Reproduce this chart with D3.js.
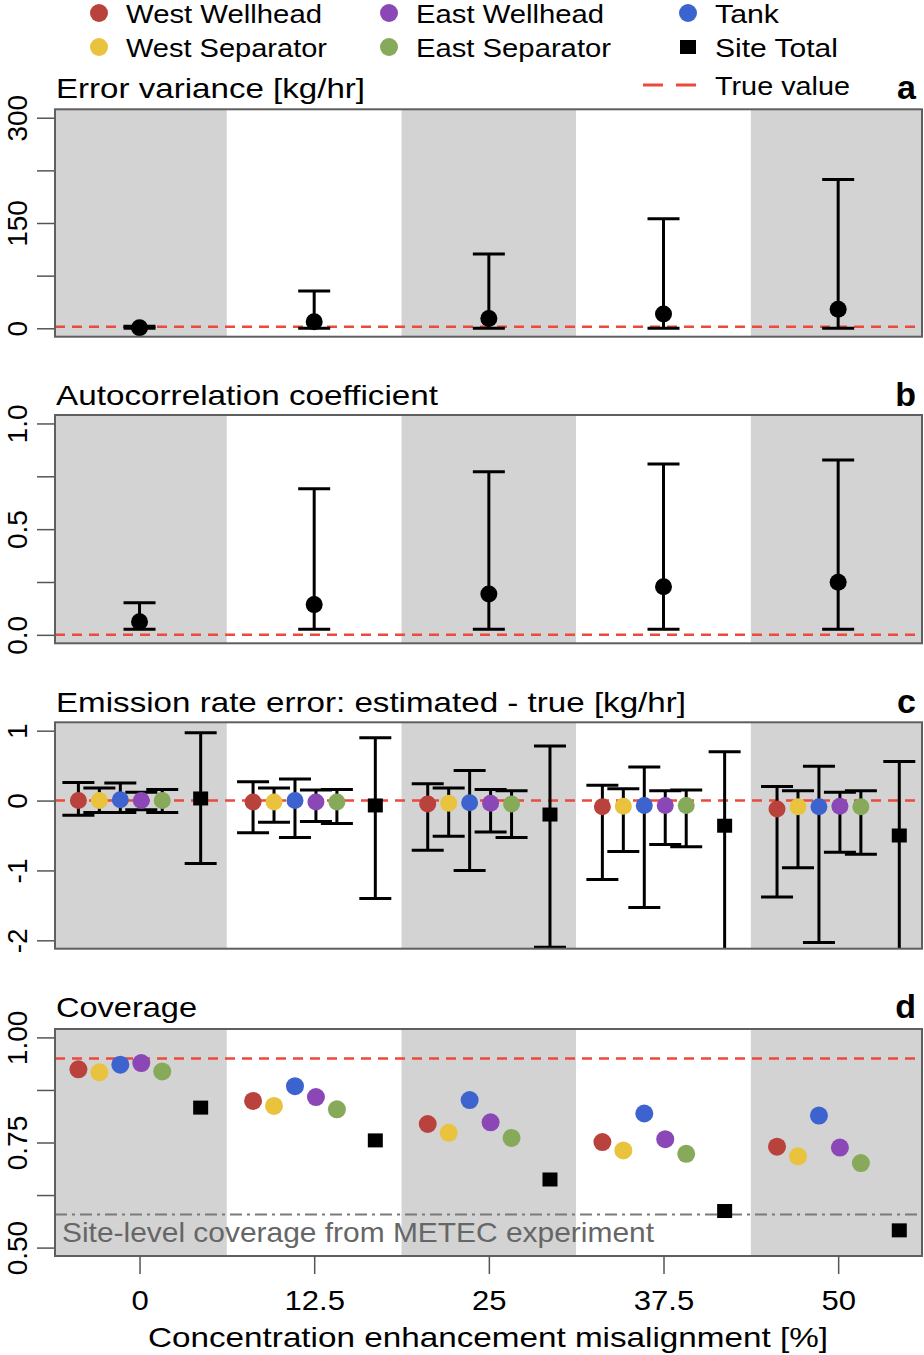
<!DOCTYPE html>
<html><head><meta charset="utf-8">
<script src="https://cdn.jsdelivr.net/npm/d3@7"></script>
<style>body{margin:0;background:#fff} svg{display:block} text{font-family:"Liberation Sans",Arial,Helvetica,sans-serif}</style>
</head><body><svg id="chart" width="924" height="1355"></svg>
<script>
// ---------------- DATA ----------------
const groups = [0, 12.5, 25, 37.5, 50];
const groupLabels = ["0", "12.5", "25", "37.5", "50"];
const sources = ["West Wellhead", "West Separator", "Tank", "East Wellhead", "East Separator", "Site Total"];
const sourceColors = ["#b9423d", "#e9c33d", "#3d63cf", "#8b47b5", "#86a95a", "#000000"];
const sourceOffsets = [-4.375, -2.875, -1.375, 0.125, 1.625, 4.375];

// (a) error variance [kg/hr]
const varEst = [0.9, 9.4, 14.0, 20.4, 27.0];
const varLo  = [0, 0, 0, 0, 0];
const varHi  = [3, 53, 106, 156, 212];
const varTrue = 2.25;
const varTicks = [0, 75, 150, 225, 300];
const varTickLabels = ["0", "", "150", "", "300"];

// (b) autocorrelation coefficient
const acEst = [0.062, 0.143, 0.193, 0.228, 0.249];
const acLo  = [0.026, 0.027, 0.027, 0.027, 0.027];
const acHi  = [0.152, 0.691, 0.772, 0.808, 0.827];
const acTrue = 0;
const acTicks = [0, 0.25, 0.5, 0.75, 1];
const acTickLabels = ["0.0", "", "0.5", "", "1.0"];

// (c) emission rate error: rows follow `sources`, columns follow `groups`
const errEst = [
  [0.00, -0.02, -0.05, -0.09, -0.12],
  [0.00, -0.02, -0.04, -0.08, -0.09],
  [0.01,  0.00, -0.03, -0.07, -0.09],
  [0.00, -0.02, -0.04, -0.07, -0.08],
  [0.00, -0.02, -0.05, -0.07, -0.09],
  [0.03, -0.07, -0.20, -0.36, -0.50]
];
const errLo = [
  [-0.21, -0.46, -0.71, -1.13, -1.38],
  [-0.17, -0.31, -0.51, -0.73, -0.96],
  [-0.17, -0.53, -1.00, -1.53, -2.03],
  [-0.13, -0.30, -0.45, -0.63, -0.74],
  [-0.17, -0.33, -0.53, -0.66, -0.77],
  [-0.90, -1.40, -2.10, -2.40, -2.70]
];
const errHi = [
  [0.26, 0.27, 0.24, 0.22, 0.20],
  [0.18, 0.18, 0.18, 0.17, 0.14],
  [0.25, 0.31, 0.43, 0.48, 0.49],
  [0.12, 0.15, 0.16, 0.14, 0.12],
  [0.16, 0.16, 0.14, 0.15, 0.14],
  [0.97, 0.90, 0.78, 0.70, 0.56]
];
const errTrue = 0;
const errTicks = [1, 0, -1, -2];
const errTickLabels = ["1", "0", "-1", "-2"];

// (d) coverage
const coverage = [
  [0.924, 0.849, 0.794, 0.751, 0.740],
  [0.917, 0.837, 0.773, 0.731, 0.717],
  [0.935, 0.884, 0.851, 0.819, 0.814],
  [0.939, 0.858, 0.798, 0.758, 0.738],
  [0.919, 0.829, 0.761, 0.723, 0.701],
  [0.833, 0.755, 0.662, 0.587, 0.541]
];
const coverageTrue = 0.95;
const coverageMETEC = 0.579;
const covTicks = [0.5, 0.625, 0.75, 0.875, 1];
const covTickLabels = ["0.50", "", "0.75", "", "1.00"];

// ---------------- DRAWING ----------------
const svg = d3.select("#chart");
const L = 55, R = 922;
const SX = 1.15;
const TRUE_COLOR = "#ec4a3c";
const x = d3.scaleLinear().domain([-6.05, 56.0]).range([L, R]);
const bandEdges = [-6.25, 6.25, 18.75, 31.25, 43.75, 56.25];

function makePanel(id, top, bottom, domain, tickVals, tickLabels, title, titleLen, titleBase, letter) {
  const y = d3.scaleLinear().domain(domain).range([bottom, top]);
  const g = svg.append("g");
  svg.append("clipPath").attr("id", "clip" + id).append("rect")
    .attr("x", L).attr("y", top).attr("width", R - L).attr("height", bottom - top);
  const plot = g.append("g").attr("clip-path", `url(#clip${id})`);
  plot.selectAll("rect.band").data(d3.range(bandEdges.length - 1)).join("rect")
    .attr("class", "band")
    .attr("x", i => x(bandEdges[i])).attr("width", i => x(bandEdges[i + 1]) - x(bandEdges[i]))
    .attr("y", top).attr("height", bottom - top)
    .attr("fill", i => i % 2 === 0 ? "#d3d3d3" : "#ffffff");

  const ax = d3.axisLeft(y).tickValues(tickVals).tickSize(18).tickFormat((d, i) => tickLabels[i]);
  const axg = g.append("g").attr("transform", `translate(${L},0)`).call(ax)
    .attr("font-family", null).attr("font-size", null);
  axg.select(".domain").remove();
  axg.selectAll(".tick line").attr("stroke", "#555").attr("stroke-width", 1.5);
  axg.selectAll(".tick text").attr("x", null).attr("dy", null)
    .attr("text-anchor", "middle").attr("font-size", 28).attr("fill", "#000")
    .attr("transform", `translate(-28,0) rotate(-90)`);

  g.append("text").attr("x", 56).attr("y", titleBase).attr("font-size", 28)
    .attr("textLength", titleLen).attr("lengthAdjust", "spacingAndGlyphs").text(title);
  g.append("text").attr("x", 916).attr("y", titleBase + 1).attr("font-size", 34)
    .attr("font-weight", "bold").attr("text-anchor", "end").text(letter);

  return {y, g, plot, top, bottom};
}

function drawBox(p) {
  p.g.append("rect").attr("x", L).attr("y", p.top).attr("width", R - L).attr("height", p.bottom - p.top)
    .attr("fill", "none").attr("stroke", "#5f5f5f").attr("stroke-width", 2);
}

function trueLine(p, v) {
  p.plot.append("line").attr("x1", L).attr("x2", R).attr("y1", p.y(v)).attr("y2", p.y(v))
    .attr("stroke", TRUE_COLOR).attr("stroke-width", 2.5).attr("stroke-dasharray", "10,7");
}

function errorBars(p, xs, lo, hi) {
  const eb = p.plot.append("g").attr("stroke", "#000").attr("stroke-width", 3);
  const idx = d3.range(xs.length);
  eb.selectAll("line.v").data(idx).join("line").attr("class", "v")
    .attr("x1", i => xs[i]).attr("x2", i => xs[i]).attr("y1", i => p.y(lo[i])).attr("y2", i => p.y(hi[i]));
  eb.selectAll("line.lo").data(idx).join("line").attr("class", "lo")
    .attr("x1", i => xs[i] - 16).attr("x2", i => xs[i] + 16).attr("y1", i => p.y(lo[i])).attr("y2", i => p.y(lo[i]));
  eb.selectAll("line.hi").data(idx).join("line").attr("class", "hi")
    .attr("x1", i => xs[i] - 16).attr("x2", i => xs[i] + 16).attr("y1", i => p.y(hi[i])).attr("y2", i => p.y(hi[i]));
}

function marks(p, s, xs, vals, r) {
  if (s === 5) {
    p.plot.selectAll(null).data(vals).join("rect")
      .attr("x", (d, i) => xs[i] - 7.5).attr("y", d => p.y(d) - 7)
      .attr("width", 15).attr("height", 14).attr("fill", "#000");
  } else {
    p.plot.selectAll(null).data(vals).join("circle")
      .attr("cx", (d, i) => xs[i]).attr("cy", d => p.y(d)).attr("r", r)
      .attr("fill", sourceColors[s]);
  }
}

// Panel a
const pa = makePanel("a", 109.3, 336.7, [-12, 312], varTicks, varTickLabels,
  "Error variance [kg/hr]", 309, 98, "a");
trueLine(pa, varTrue);
const gx = groups.map(g => x(g));
errorBars(pa, gx, varLo, varHi);
pa.plot.selectAll(null).data(varEst).join("circle")
  .attr("cx", (d, i) => gx[i]).attr("cy", d => pa.y(d)).attr("r", 8.5).attr("fill", "#000");
drawBox(pa);

// Panel b
const pb = makePanel("b", 415, 643.3, [-0.04, 1.04], acTicks, acTickLabels,
  "Autocorrelation coefficient", 382, 405, "b");
trueLine(pb, acTrue);
errorBars(pb, gx, acLo, acHi);
pb.plot.selectAll(null).data(acEst).join("circle")
  .attr("cx", (d, i) => gx[i]).attr("cy", d => pb.y(d)).attr("r", 8.5).attr("fill", "#000");
drawBox(pb);

// Panel c
const pc = makePanel("c", 722.3, 948.7, [-2.12, 1.12], errTicks, errTickLabels,
  "Emission rate error: estimated - true [kg/hr]", 630, 712, "c");
trueLine(pc, errTrue);
sources.forEach((src, s) => {
  const xs = groups.map(g => x(g + sourceOffsets[s]));
  errorBars(pc, xs, errLo[s], errHi[s]);
});
sources.forEach((src, s) => {
  const xs = groups.map(g => x(g + sourceOffsets[s]));
  marks(pc, s, xs, errEst[s], 8.5);
});
drawBox(pc);

// Panel d
const pd = makePanel("d", 1029, 1256, [0.48, 1.02], covTicks, covTickLabels,
  "Coverage", 141, 1017, "d");
trueLine(pd, coverageTrue);
pd.plot.append("line").attr("x1", L).attr("x2", R)
  .attr("y1", pd.y(coverageMETEC)).attr("y2", pd.y(coverageMETEC))
  .attr("stroke", "#7a7a7a").attr("stroke-width", 2).attr("stroke-dasharray", "12,5,3,5");
pd.g.append("text").attr("x", 62).attr("y", 1242).attr("font-size", 28).attr("fill", "#666")
  .attr("textLength", 592).attr("lengthAdjust", "spacingAndGlyphs")
  .text("Site-level coverage from METEC experiment");
sources.forEach((src, s) => {
  const xs = groups.map(g => x(g + sourceOffsets[s]));
  marks(pd, s, xs, coverage[s], 9);
});
drawBox(pd);

// x axis
const xax = d3.axisBottom(x).tickValues(groups).tickSize(18).tickFormat((d, i) => groupLabels[i]);
const xg = svg.append("g").attr("transform", "translate(0,1256)").call(xax)
  .attr("font-family", null).attr("font-size", null);
xg.select(".domain").remove();
xg.selectAll(".tick line").attr("stroke", "#555").attr("stroke-width", 1.5);
xg.selectAll(".tick text").attr("y", null).attr("dy", null).attr("font-size", 27).attr("fill", "#000")
  .attr("transform", `translate(0,54) scale(${SX},1)`);
svg.append("text").attr("x", 488).attr("y", 1347).attr("font-size", 28).attr("text-anchor", "middle")
  .attr("textLength", 680).attr("lengthAdjust", "spacingAndGlyphs")
  .text("Concentration enhancement misalignment [%]");

// Legend
const legendCols = [99, 389, 688];
const legendRows = [13, 47];
const legendTextLen = [196, 201, 64, 188, 195, 123];
const legendOrder = [0, 3, 2, 1, 4, 5]; // reading order: row1 WW, EW, Tank; row2 WS, ES, Site
const lg = svg.append("g");
legendOrder.forEach((s, k) => {
  const cx = legendCols[k % 3], cy = legendRows[Math.floor(k / 3)];
  if (s === 5) {
    lg.append("rect").attr("x", cx - 8).attr("y", cy - 7).attr("width", 16).attr("height", 14).attr("fill", "#000");
  } else {
    lg.append("circle").attr("cx", cx).attr("cy", cy).attr("r", 9).attr("fill", sourceColors[s]);
  }
  lg.append("text").attr("x", cx + 27).attr("y", cy + 10).attr("font-size", 26)
    .attr("textLength", legendTextLen[s]).attr("lengthAdjust", "spacingAndGlyphs").text(sources[s]);
});
lg.append("line").attr("x1", 643).attr("x2", 697).attr("y1", 85).attr("y2", 85)
  .attr("stroke", TRUE_COLOR).attr("stroke-width", 3).attr("stroke-dasharray", "20,13");
lg.append("text").attr("x", 715).attr("y", 95).attr("font-size", 26)
  .attr("textLength", 135).attr("lengthAdjust", "spacingAndGlyphs").text("True value");
</script>
</body></html>
